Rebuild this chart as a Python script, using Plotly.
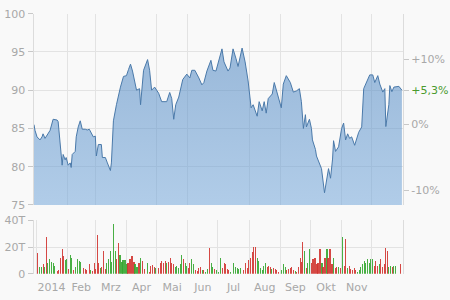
import pandas as pd
import plotly.graph_objects as go

# ---------------- data ----------------
# price: day offset from 2014-01-01 and closing value
price_day = [-2, -1, 1, 4, 6, 7, 9, 11, 14, 17, 21, 22, 24, 26, 27, 29, 30, 32, 34, 35,
             36, 39, 40, 42, 44, 46, 49, 51, 53, 55, 57, 59, 60, 62, 65, 66, 69, 71, 74, 75,
             77, 80, 82, 84, 87, 90, 92, 94, 96, 98, 100, 103, 104, 107, 111, 113, 115, 118, 122, 125,
             130, 133, 135, 137, 139, 142, 146, 150, 153, 155, 158, 162, 165, 167, 170, 174, 176, 179, 182, 185,
             187, 191, 193, 196, 199, 201, 205, 208, 211, 214, 216, 220, 222, 225, 227, 229, 231, 235, 237, 240,
             244, 246, 249, 253, 256, 259, 262, 264, 266, 268, 269, 272, 274, 275, 278, 279, 284, 287, 289, 291,
             293, 295, 296, 298, 301, 304, 306, 308, 310, 312, 314, 317, 321, 324, 326, 329, 332, 335, 337, 340,
             342, 345, 347, 348, 351, 352, 354, 356, 361, 364]
price = [85.5, 84.75, 83.9, 83.5, 83.9, 84.3, 83.7, 84.1, 84.75, 86.2, 86.1, 85.9, 83.5, 80.2, 81.6, 80.9, 81.2, 80.2, 80.5, 79.9,
         81.6, 82.0, 83.9, 85.2, 86.0, 84.9, 84.9, 84.8, 84.9, 84.3, 83.9, 84.0, 81.4, 82.9, 82.9, 81.2, 81.2, 80.5, 79.5, 80.5,
         86.0, 88.1, 89.3, 90.4, 91.8, 91.9, 92.7, 93.4, 92.5, 91.4, 90.0, 90.2, 88.1, 92.6, 94.0, 92.6, 90.0, 90.4, 89.6, 88.5,
         88.5, 89.7, 88.9, 86.2, 88.1, 89.1, 91.4, 92.1, 91.6, 92.6, 92.6, 91.6, 90.7, 91.0, 92.5, 93.9, 92.6, 92.5, 93.9, 95.4,
         93.7, 92.5, 92.9, 95.4, 94.1, 93.1, 95.5, 93.7, 91.2, 87.7, 88.1, 86.6, 88.5, 87.3, 88.5, 87.0, 88.9, 89.5, 91.0, 89.5,
         87.7, 90.8, 91.9, 91.0, 89.75, 89.9, 90.2, 88.5, 85.0, 86.8, 85.2, 86.2, 85.0, 83.5, 82.25, 81.4, 79.75, 76.6, 78.0, 79.75,
         78.5, 81.0, 83.4, 82.0, 82.6, 85.0, 85.7, 83.5, 84.3, 83.7, 83.9, 82.8, 84.5, 85.2, 90.2, 91.0, 92.0, 92.0, 91.0, 91.9,
         90.8, 89.75, 90.2, 85.25, 88.1, 90.6, 89.8, 90.4, 90.5, 90.0]

# volume: day offset, volume in thousands, direction (+1 up / -1 down)
vol_day = [1, 3, 5, 7, 8, 10, 11, 13, 15, 17, 18, 21, 22, 24, 26, 27, 29, 30, 32, 34,
           35, 37, 39, 41, 43, 44, 47, 49, 50, 53, 54, 56, 58, 59, 61, 62, 64, 65, 67, 69,
           70, 72, 74, 75, 77, 79, 80, 82, 83, 85, 86, 88, 90, 91, 93, 95, 97, 98, 100, 102,
           103, 105, 107, 110, 112, 113, 115, 117, 118, 121, 123, 124, 126, 128, 129, 131, 133, 134, 136, 138,
           139, 141, 143, 144, 146, 148, 149, 151, 152, 154, 156, 158, 160, 161, 163, 165, 166, 168, 170, 172,
           174, 175, 177, 179, 181, 183, 185, 187, 188, 190, 191, 193, 196, 198, 200, 201, 203, 206, 208, 210,
           211, 213, 215, 216, 218, 220, 221, 223, 225, 226, 228, 230, 231, 233, 234, 236, 238, 239, 241, 244,
           246, 248, 249, 251, 253, 254, 256, 258, 259, 261, 263, 264, 265, 267, 269, 270, 272, 274, 275, 277,
           279, 280, 282, 284, 285, 287, 289, 290, 292, 294, 295, 297, 298, 300, 302, 304, 306, 307, 309, 311,
           312, 314, 316, 317, 319, 321, 322, 324, 326, 327, 329, 331, 332, 334, 336, 337, 339, 341, 342, 344,
           346, 347, 349, 350, 352, 354, 355, 357, 362]
vol_k = [15, 5, 5, 7, 5, 27, 8, 11, 9, 8, 6, 2, 3, 12, 18, 13, 10, 11, 3.5, 14,
         12, 3, 5, 11, 9.5, 9, 4, 3.5, 2.4, 7, 2.4, 1.7, 8, 3.6, 28.6, 8, 4.3, 5.2, 16.7, 3.6,
         7.6, 10.7, 16.7, 9, 37, 17, 10.7, 23, 14, 9, 10, 10, 7, 8, 10.7, 13, 9, 7, 5.2, 7.6,
         12, 9.5, 3.6, 8, 1.2, 6, 6.7, 5.2, 4.3, 4.3, 8, 9.5, 8, 9.5, 8, 9, 12, 8, 7, 4.8,
         6, 4.3, 7, 13.6, 10.7, 8, 6, 4.3, 7.6, 10.7, 7, 2.9, 1.7, 4.3, 4.8, 2.9, 2.9, 1.2, 3.6, 19,
         8, 4.8, 3.6, 2.4, 1.2, 11.4, 4.3, 8, 7, 3.6, 2.9, 1.2, 7.6, 4.8, 4.3, 3.6, 4.3, 2.4, 8, 4.3,
         10, 12, 16, 19.5, 19.5, 12, 9.5, 4.3, 2.4, 6, 8, 4.8, 6, 4.8, 3.6, 4.3, 3.6, 2.9, 1.2, 2.4,
         7, 4.8, 2.4, 3.6, 4.3, 5.2, 2.4, 1.7, 1.2, 4.8, 12, 8.8, 23.8, 16.7, 4.3, 7.6, 18.6, 8, 10.7, 12,
         7, 8, 18, 8, 5.2, 12, 18.6, 12, 18, 7, 11.4, 4.3, 5.2, 4.8, 4.3, 27, 6, 26, 4.3, 6,
         3.6, 2.9, 4.3, 2.4, 1.2, 2.9, 4.8, 7, 9.5, 8, 10.7, 8, 10.7, 11.2, 6, 9.5, 6, 7, 10.7, 4.8,
         7, 19, 17, 4.8, 6, 4.8, 6, 6, 7]
vol_dir = [-1, 1, 1, -1, 1, -1, 1, 1, 1, 1, 1, -1, -1, -1, -1, -1, 1, 1, -1, 1,
           1, -1, 1, 1, 1, 1, -1, -1, -1, -1, 1, -1, -1, -1, -1, -1, 1, -1, -1, -1,
           1, 1, 1, 1, 1, 1, -1, -1, 1, 1, 1, 1, 1, -1, -1, -1, -1, 1, 1, -1,
           1, -1, -1, 1, -1, -1, -1, -1, 1, -1, -1, -1, -1, -1, 1, -1, -1, -1, -1, 1,
           1, 1, 1, 1, -1, 1, 1, -1, -1, 1, 1, -1, -1, -1, -1, 1, -1, 1, 1, -1,
           1, 1, -1, 1, 1, 1, -1, -1, -1, -1, -1, 1, 1, 1, 1, 1, 1, -1, -1, -1,
           -1, -1, -1, -1, -1, 1, 1, 1, 1, 1, 1, -1, -1, -1, 1, -1, -1, -1, -1, 1,
           1, 1, -1, -1, -1, -1, -1, 1, -1, -1, -1, -1, -1, 1, -1, 1, 1, -1, -1, -1,
           -1, -1, -1, 1, -1, -1, 1, -1, -1, -1, 1, -1, -1, 1, -1, 1, -1, -1, 1, -1,
           -1, -1, -1, -1, 1, 1, 1, 1, 1, 1, 1, 1, 1, 1, -1, -1, -1, 1, -1, -1,
           -1, -1, -1, 1, 1, -1, 1, 1, -1]

month_starts = ["2014-01-01", "2014-02-01", "2014-03-01", "2014-04-01", "2014-05-01", "2014-06-01",
                "2014-07-01", "2014-08-01", "2014-09-01", "2014-10-01", "2014-11-01", "2014-12-01"]
month_labels = ["2014", "Feb", "Mrz", "Apr", "Mai", "Jun", "Jul", "Aug", "Sep", "Okt", "Nov"]
price_ticks = [75, 80, 85, 90, 95, 100]
pct_ticks = [-10, 0, 10]
pct_labels = ["-10%", "0%", "+10%"]
vol_ticks = [0, 20000, 40000]
vol_labels = ["0", "20T", "40T"]

# ---------------- build ----------------
base = pd.Timestamp("2014-01-01")
p_dates = base + pd.to_timedelta(price_day, unit="D")
v_dates = base + pd.to_timedelta(vol_day, unit="D")
ref = price[0]
pct = [(p / ref - 1) * 100 for p in price]
last_pct = pct[-1]
last_label = ("%+.1f%%" % last_pct).replace(".", ",")

starts = pd.to_datetime(month_starts)
mids = [starts[i] + (starts[i + 1] - starts[i]) / 2 for i in range(len(month_labels))]

x_range = [base - pd.Timedelta(hours=60), base + pd.Timedelta(days=365, hours=2)]
y_range = [75, 100]
pct_range = [(y_range[0] / ref - 1) * 100, (y_range[1] / ref - 1) * 100]

RED, GREEN = "rgba(208,52,48,0.9)", "rgba(52,166,48,0.9)"
GRID = "#e3e3e3"
TICKC = "#a8a8a8"
FONT = dict(family="DejaVu Sans, Verdana, sans-serif", size=11, color=TICKC)

fig = go.Figure()
fig.add_trace(go.Scatter(
    x=p_dates, y=price, mode="lines", line=dict(color="#4a79a9", width=1),
    fill="tozeroy",
    fillgradient=dict(type="vertical", start=75, stop=100,
                      colorscale=[[0, "rgba(120,170,220,0.55)"], [1, "rgba(66,124,186,0.55)"]]),
    xaxis="x", yaxis="y", hoverinfo="skip", showlegend=False))
fig.add_trace(go.Scatter(
    x=p_dates, y=pct, mode="lines", line=dict(color="rgba(0,0,0,0)", width=0),
    xaxis="x", yaxis="y3", hoverinfo="skip", showlegend=False))
fig.add_trace(go.Bar(
    x=v_dates, y=[v * 1000 for v in vol_k],
    marker=dict(color=[GREEN if d > 0 else RED for d in vol_dir], line=dict(width=0)),
    width=86400000 * 1.1, xaxis="x2", yaxis="y2", hoverinfo="skip", showlegend=False))

xdom = [33.5 / 450, 403 / 450]
minor = dict(dtick="M1", tick0="2014-01-01", showgrid=True, gridcolor=GRID, gridwidth=1, ticks="")

fig.update_layout(
    width=450, height=300, margin=dict(l=0, r=0, t=0, b=0),
    paper_bgcolor="#f9f9f9", plot_bgcolor="#f9f9f9",
    font=FONT, bargap=0,
    xaxis=dict(domain=xdom, anchor="y", range=x_range, type="date", showticklabels=False,
               ticks="", showgrid=False, zeroline=False, minor=minor),
    xaxis2=dict(domain=xdom, anchor="y2", matches="x", type="date",
                tickmode="array", tickvals=mids, ticktext=month_labels,
                ticks="outside", ticklen=3, tickcolor="rgba(0,0,0,0)",
                showgrid=False, zeroline=False, minor=minor, tickfont=FONT),
    yaxis=dict(domain=[1 - 208 / 300, 1 - 8 / 300], anchor="x", range=y_range,
               tickmode="array", tickvals=price_ticks, ticks="outside", ticklen=5,
               tickcolor="#c8c8c8", showgrid=True, gridcolor=GRID, zeroline=False,
               showline=True, linecolor="#dcdcdc", tickfont=FONT),
    yaxis3=dict(overlaying="y", side="right", anchor="x", range=pct_range,
                tickmode="array", tickvals=pct_ticks + [last_pct],
                ticktext=pct_labels + ["<span style='color:#4a9a2e'>" + last_label + "</span>"],
                ticks="outside", ticklen=5, tickcolor="#c8c8c8", showgrid=False, zeroline=False,
                showline=True, linecolor="#dcdcdc", tickfont=FONT),
    yaxis2=dict(domain=[1 - 280 / 300, 1 - 224 / 300], anchor="x2", range=[0, 40000],
                tickmode="array", tickvals=vol_ticks, ticktext=vol_labels,
                ticks="outside", ticklen=5, tickcolor="#c8c8c8", showgrid=True, gridcolor=GRID,
                zeroline=False, showline=True, linecolor="#dcdcdc", mirror=True, tickfont=FONT),
)

fig.write_html("out.html")
